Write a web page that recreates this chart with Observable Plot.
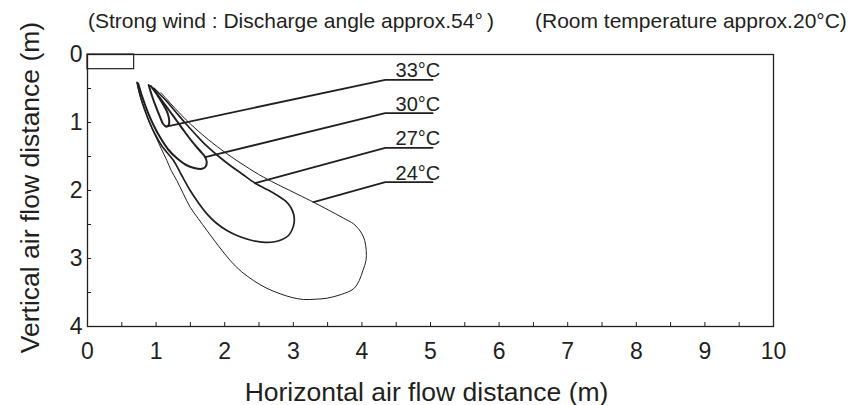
<!DOCTYPE html>
<html><head><meta charset="utf-8">
<script src="https://cdn.jsdelivr.net/npm/d3@7"></script>
<script src="https://cdn.jsdelivr.net/npm/@observablehq/plot@0.6"></script>
<style>
body{margin:0;background:#fff;font-family:"Liberation Sans",Arial,Helvetica,sans-serif;color:#231f20}
#wrap{position:relative;width:857px;height:405px}
.t{position:absolute;font-size:21px;line-height:21px;white-space:nowrap;z-index:2}
#chart{position:absolute;left:0;top:0}
</style></head><body>
<div id="wrap">
<div class="t" id="t1" style="left:88px;top:9.5px"></div>
<div class="t" id="t2" style="left:535px;top:9.5px"></div>
<div id="chart"></div>
</div>
<script>
const ink = "#231f20";
const titleLeft = "(Strong wind : Discharge angle approx.54°\u2009)";
const titleRight = "(Room temperature approx.20°C)";
const xLabel = "Horizontal air flow distance (m)";
const yLabel = "Vertical air flow distance (m)";
const xTickLabels = [0,1,2,3,4,5,6,7,8,9,10];
const yTickLabels = [0,1,2,3,4];
const xMinorTicks = [0,0.5,1,1.5,2,2.5,3,3.5,4,4.5,5,5.5,6,6.5,7,7.5,8,8.5,9,9.5,10];
const yMinorTicks = [0,0.5,1,1.5,2,2.5,3,3.5,4];

// outlet box (m)
const outletBox = [{x1:0, x2:0.68, y1:0, y2:0.216}];

// isotherm contours [horizontal m, vertical m]
const c24 = [[1.070,0.559],[1.147,0.647],[1.278,0.794],[1.497,1.019],[1.759,1.250],[2.032,1.460],[2.299,1.640],[2.566,1.804],[3.052,2.051],[3.294,2.172],[3.538,2.301],[3.727,2.404],[3.878,2.490],[3.946,2.559],[4.000,2.637],[4.041,2.735],[4.063,2.882],[4.060,3.029],[4.015,3.176],[3.961,3.324],[3.878,3.446],[3.698,3.529],[3.490,3.584],[3.319,3.599],[3.149,3.603],[2.984,3.574],[2.809,3.519],[2.605,3.434],[2.420,3.324],[2.241,3.191],[2.080,3.029],[1.905,2.809],[1.741,2.588],[1.614,2.412],[1.497,2.246],[1.395,2.044],[1.302,1.853],[1.220,1.706],[1.157,1.559],[1.074,1.382],[1.001,1.221],[0.914,1.029],[0.841,0.824],[0.797,0.706],[0.754,0.559],[0.720,0.407]];
const c27 = [[0.972,0.500],[1.060,0.588],[1.176,0.713],[1.293,0.853],[1.424,1.007],[1.570,1.169],[1.730,1.338],[1.905,1.493],[2.080,1.632],[2.255,1.757],[2.445,1.893],[2.634,1.993],[2.809,2.099],[2.897,2.162],[2.962,2.246],[3.006,2.353],[3.013,2.466],[2.984,2.574],[2.930,2.662],[2.838,2.721],[2.711,2.757],[2.547,2.760],[2.372,2.728],[2.197,2.669],[2.032,2.588],[1.876,2.478],[1.741,2.343],[1.614,2.176],[1.497,2.000],[1.366,1.765],[1.254,1.559],[1.089,1.353],[0.987,1.176],[0.899,0.985],[0.827,0.794],[0.768,0.603],[0.724,0.412]];
const c30 = [[0.921,0.463],[0.972,0.529],[1.074,0.662],[1.191,0.824],[1.308,0.985],[1.424,1.147],[1.541,1.301],[1.636,1.412],[1.716,1.510],[1.738,1.581],[1.723,1.647],[1.668,1.681],[1.555,1.669],[1.439,1.625],[1.308,1.529],[1.176,1.397],[1.060,1.221],[0.958,1.029],[0.870,0.824],[0.797,0.618],[0.739,0.426]];
const c33 = [[0.892,0.449],[0.943,0.618],[1.001,0.779],[1.060,0.926],[1.103,1.022],[1.147,1.059],[1.184,1.037],[1.191,0.971],[1.169,0.868],[1.103,0.735],[1.023,0.603],[0.950,0.493]];

const temps = ["33°C","30°C","27°C","24°C"];
const leaderStart = [[1.147,1.059],[1.716,1.510],[2.445,1.893],[3.294,2.172]];
const leaderElbowX = 4.34;
const leaderEndX = 5.03;
const leaderY = [0.372,0.863,1.372,1.878];
const labelX = 4.49;

document.getElementById("t1").textContent = titleLeft;
document.getElementById("t2").textContent = titleRight;

const W = 857, H = 405, mL = 87, mR = 84, mT = 54, mB = 79;
const innerW = W - mL - mR, innerH = H - mT - mB;

const leaders = temps.flatMap((t, i) => [
  {t, x: leaderStart[i][0], y: leaderStart[i][1]},
  {t, x: leaderElbowX, y: leaderY[i]},
  {t, x: leaderEndX, y: leaderY[i]}
]);
const labels = temps.map((t, i) => ({t, x: labelX, y: leaderY[i]}));

const contour = (pts, sw) => Plot.line(pts, {x: d => d[0], y: d => d[1], curve: "catmull-rom", stroke: ink, strokeWidth: sw, strokeLinejoin: "round"});

const plot = Plot.plot({
  width: W, height: H,
  marginLeft: mL, marginRight: mR, marginTop: mT, marginBottom: mB,
  style: {fontFamily: '"Liberation Sans", Arial, Helvetica, sans-serif', fontSize: "23px", color: ink, background: "transparent", overflow: "visible"},
  x: {domain: [0, 10]},
  y: {domain: [0, 4], reverse: true},
  marks: [
    Plot.rect(outletBox, {x1: "x1", x2: "x2", y1: "y1", y2: "y2", fill: "none", stroke: ink, strokeWidth: 1.2}),
    contour(c24, 1),
    contour(c27, 1.7),
    contour(c30, 2),
    contour(c33, 2),
    Plot.line(leaders, {x: "x", y: "y", z: "t", stroke: ink, strokeWidth: 1.8}),
    Plot.text(labels, {x: "x", y: "y", text: "t", textAnchor: "start", lineAnchor: "bottom", dy: -2.5, fontSize: 20, fill: ink}),
    Plot.tickX(xMinorTicks, {x: d => d, insetTop: innerH - 4, stroke: ink, strokeWidth: 1}),
    Plot.tickY(yMinorTicks, {y: d => d, insetRight: innerW - 4, stroke: ink, strokeWidth: 1}),
    Plot.frame({stroke: ink, strokeWidth: 1.3}),
    Plot.axisX({ticks: xTickLabels, tickSize: 0, tickPadding: 16, tickFormat: d => String(d), fontSize: 23, label: null, fill: ink}),
    Plot.axisY({ticks: yTickLabels, tickSize: 0, tickPadding: 5, tickFormat: d => String(d), fontSize: 23, label: null, fill: ink}),
    Plot.text([xLabel], {text: d => d, frameAnchor: "bottom", lineAnchor: "bottom", dy: 74, dx: -4, fontSize: 26.5, fill: ink}),
    Plot.text([yLabel], {text: d => d, frameAnchor: "left", textAnchor: "middle", rotate: -90, lineAnchor: "bottom", dx: -49, dy: -3, fontSize: 26.5, fill: ink})
  ]
});
document.getElementById("chart").appendChild(plot);
</script>
</body></html>
